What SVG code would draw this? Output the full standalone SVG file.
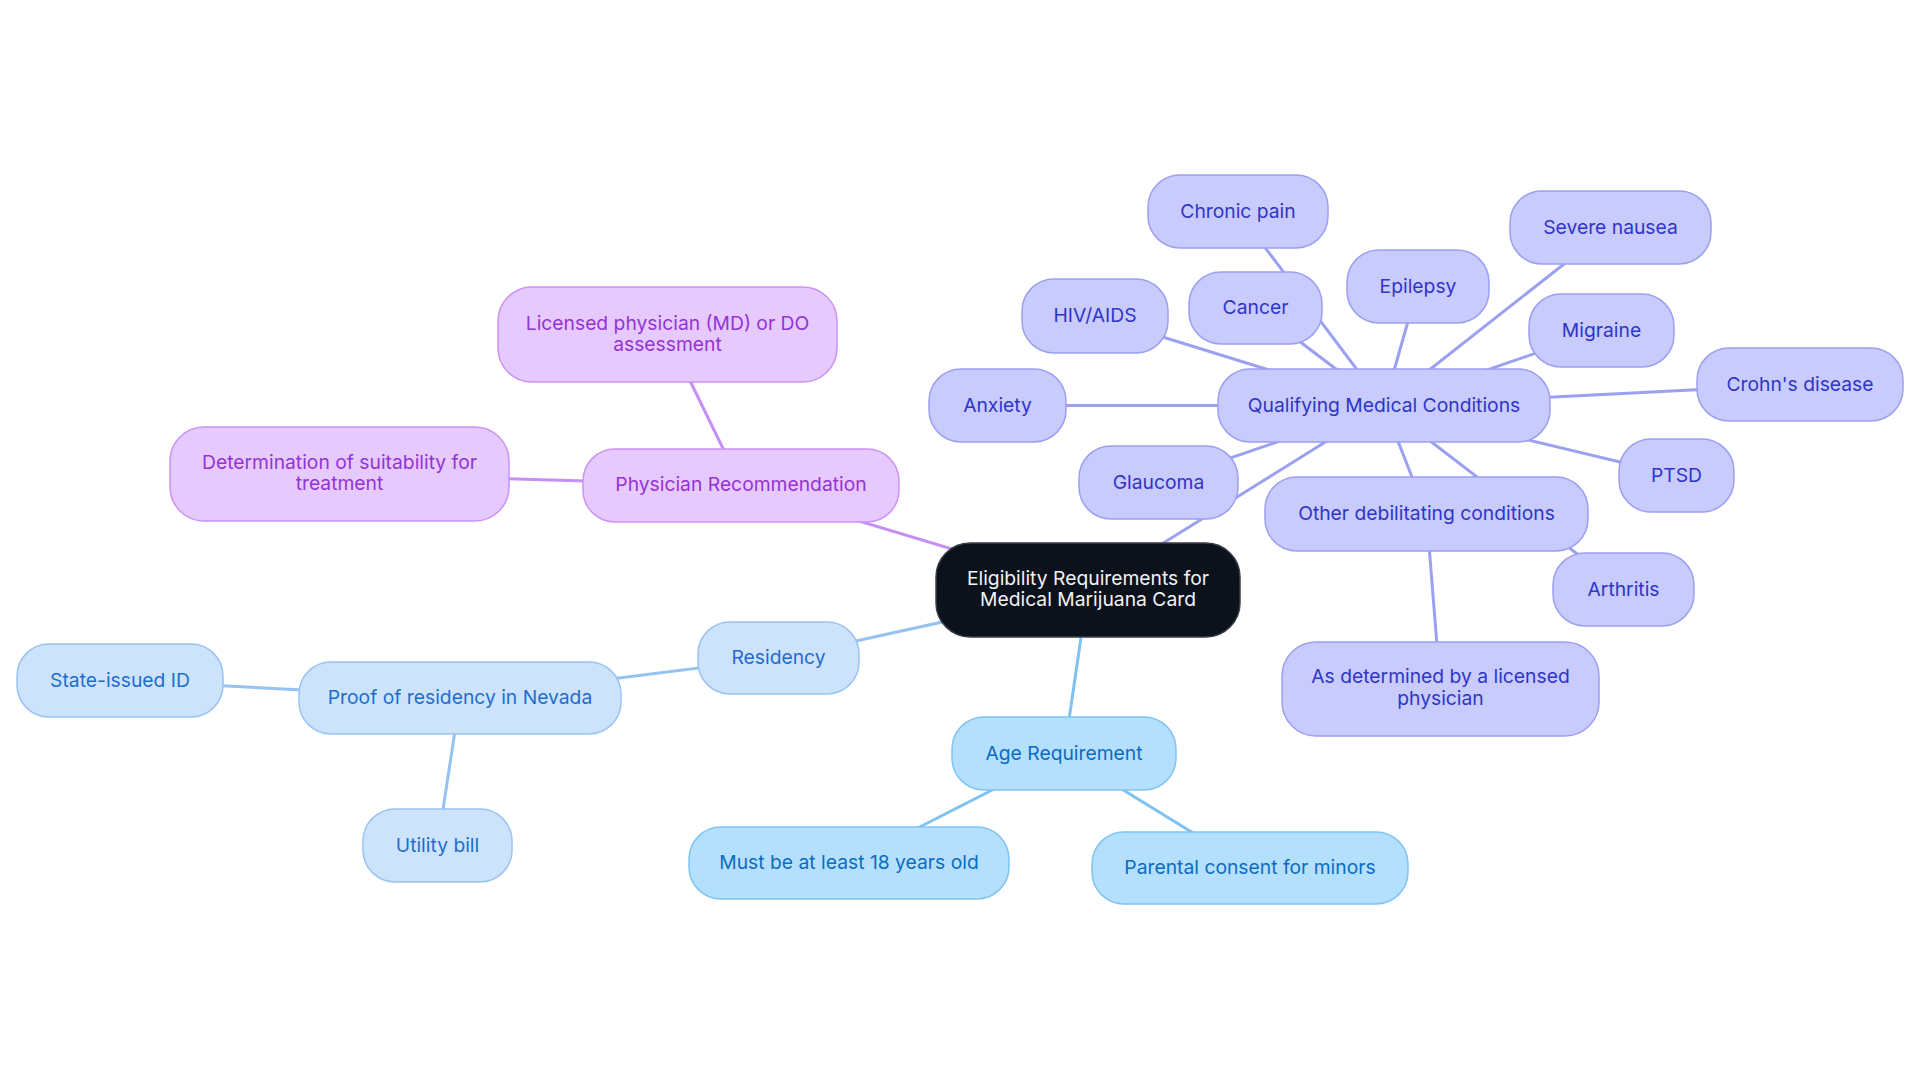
<svg xmlns="http://www.w3.org/2000/svg" width="1920" height="1083" viewBox="0 0 1920 1083">
<style>
text{font-family:Inter,"Open Sans","Liberation Sans",sans-serif;font-size:19.3px;text-anchor:middle}
.c line{stroke-width:3;stroke-linecap:round}
.lp{stroke:#c590f5}.lr{stroke:#95c2f1}.la{stroke:#7fc2f1}.lq{stroke:#9ca0f1}
.nc rect{fill:#0c121c;stroke:#3a3f47;stroke-width:1.5}.nc text{fill:#f2f2f2}
.np rect{fill:#e7cafd;stroke:#cb92f5;stroke-width:1.5}.np text{fill:#9333d6}
.nr rect{fill:#cde3fb;stroke:#99c4f2;stroke-width:1.5}.nr text{fill:#1e6dcd}
.na rect{fill:#b4e0fd;stroke:#80c4f3;stroke-width:1.5}.na text{fill:#0b6cc2}
.nq rect{fill:#c8cbfb;stroke:#9ba0f2;stroke-width:1.5}.nq text{fill:#2e35c8}
</style>
<rect width="1920" height="1083" fill="#ffffff"/>
<g id="connectors" class="c">
<line class="lp" x1="1088" y1="590" x2="741" y2="485.5"/>
<line class="lp" x1="741" y1="485.5" x2="667.5" y2="334.5"/>
<line class="lp" x1="741" y1="485.5" x2="339.5" y2="474"/>
<line class="lr" x1="1088" y1="590" x2="778.5" y2="658"/>
<line class="lr" x1="778.5" y1="658" x2="460" y2="698"/>
<line class="lr" x1="460" y1="698" x2="120" y2="680.5"/>
<line class="lr" x1="460" y1="698" x2="437.5" y2="845.5"/>
<line class="la" x1="1088" y1="590" x2="1064" y2="753.5"/>
<line class="la" x1="1064" y1="753.5" x2="849" y2="863"/>
<line class="la" x1="1064" y1="753.5" x2="1250" y2="868"/>
<line class="lq" x1="1088" y1="590" x2="1384" y2="405.5"/>
<line class="lq" x1="1384" y1="405.5" x2="1238" y2="211.5"/>
<line class="lq" x1="1384" y1="405.5" x2="1255.5" y2="308"/>
<line class="lq" x1="1384" y1="405.5" x2="1418" y2="286.5"/>
<line class="lq" x1="1384" y1="405.5" x2="1610.5" y2="227.5"/>
<line class="lq" x1="1384" y1="405.5" x2="1095" y2="316"/>
<line class="lq" x1="1384" y1="405.5" x2="1601.5" y2="330.5"/>
<line class="lq" x1="1384" y1="405.5" x2="1800" y2="384.5"/>
<line class="lq" x1="1384" y1="405.5" x2="997.5" y2="405.5"/>
<line class="lq" x1="1384" y1="405.5" x2="1158.5" y2="482.5"/>
<line class="lq" x1="1384" y1="405.5" x2="1676.5" y2="475.5"/>
<line class="lq" x1="1384" y1="405.5" x2="1426.5" y2="514"/>
<line class="lq" x1="1384" y1="405.5" x2="1623.5" y2="589.5"/>
<line class="lq" x1="1426.5" y1="514" x2="1440.5" y2="689"/>
</g>
<g id="root" class="nc"><rect x="936" y="543" width="304" height="94" rx="34"/><text x="1088" y="585">Eligibility Requirements for</text><text x="1088" y="606">Medical Marijuana Card</text></g>
<g id="physician" class="np"><rect x="583" y="449" width="316" height="73" rx="32"/><text x="741" y="491">Physician Recommendation</text></g>
<g id="licensed" class="np"><rect x="498" y="287" width="339" height="95" rx="34"/><text x="667.5" y="330">Licensed physician (MD) or DO</text><text x="667.5" y="351">assessment</text></g>
<g id="determination" class="np"><rect x="170" y="427" width="339" height="94" rx="34"/><text x="339.5" y="469">Determination of suitability for</text><text x="339.5" y="490">treatment</text></g>
<g id="residency" class="nr"><rect x="698" y="622" width="161" height="72" rx="32"/><text x="778.5" y="664">Residency</text></g>
<g id="proof" class="nr"><rect x="299" y="662" width="322" height="72" rx="32"/><text x="460" y="704">Proof of residency in Nevada</text></g>
<g id="stateid" class="nr"><rect x="17" y="644" width="206" height="73" rx="32"/><text x="120" y="686.5">State-issued ID</text></g>
<g id="utility" class="nr"><rect x="363" y="809" width="149" height="73" rx="32"/><text x="437.5" y="851.5">Utility bill</text></g>
<g id="age" class="na"><rect x="952" y="717" width="224" height="73" rx="32"/><text x="1064" y="759.5">Age Requirement</text></g>
<g id="must" class="na"><rect x="689" y="827" width="320" height="72" rx="32"/><text x="849" y="869">Must be at least 18 years old</text></g>
<g id="parental" class="na"><rect x="1092" y="832" width="316" height="72" rx="32"/><text x="1250" y="874">Parental consent for minors</text></g>
<g id="qualifying" class="nq"><rect x="1218" y="369" width="332" height="73" rx="32"/><text x="1384" y="411.5">Qualifying Medical Conditions</text></g>
<g id="chronic" class="nq"><rect x="1148" y="175" width="180" height="73" rx="32"/><text x="1238" y="217.5">Chronic pain</text></g>
<g id="cancer" class="nq"><rect x="1189" y="272" width="133" height="72" rx="32"/><text x="1255.5" y="314">Cancer</text></g>
<g id="epilepsy" class="nq"><rect x="1347" y="250" width="142" height="73" rx="32"/><text x="1418" y="292.5">Epilepsy</text></g>
<g id="nausea" class="nq"><rect x="1510" y="191" width="201" height="73" rx="32"/><text x="1610.5" y="233.5">Severe nausea</text></g>
<g id="hiv" class="nq"><rect x="1022" y="279" width="146" height="74" rx="32"/><text x="1095" y="322">HIV/AIDS</text></g>
<g id="migraine" class="nq"><rect x="1529" y="294" width="145" height="73" rx="32"/><text x="1601.5" y="336.5">Migraine</text></g>
<g id="crohns" class="nq"><rect x="1697" y="348" width="206" height="73" rx="32"/><text x="1800" y="390.5">Crohn's disease</text></g>
<g id="anxiety" class="nq"><rect x="929" y="369" width="137" height="73" rx="32"/><text x="997.5" y="411.5">Anxiety</text></g>
<g id="glaucoma" class="nq"><rect x="1079" y="446" width="159" height="73" rx="32"/><text x="1158.5" y="488.5">Glaucoma</text></g>
<g id="ptsd" class="nq"><rect x="1619" y="439" width="115" height="73" rx="32"/><text x="1676.5" y="481.5">PTSD</text></g>
<g id="other" class="nq"><rect x="1265" y="477" width="323" height="74" rx="32"/><text x="1426.5" y="520">Other debilitating conditions</text></g>
<g id="arthritis" class="nq"><rect x="1553" y="553" width="141" height="73" rx="32"/><text x="1623.5" y="595.5">Arthritis</text></g>
<g id="asdetermined" class="nq"><rect x="1282" y="642" width="317" height="94" rx="34"/><text x="1440.5" y="683">As determined by a licensed</text><text x="1440.5" y="705">physician</text></g>
</svg>
